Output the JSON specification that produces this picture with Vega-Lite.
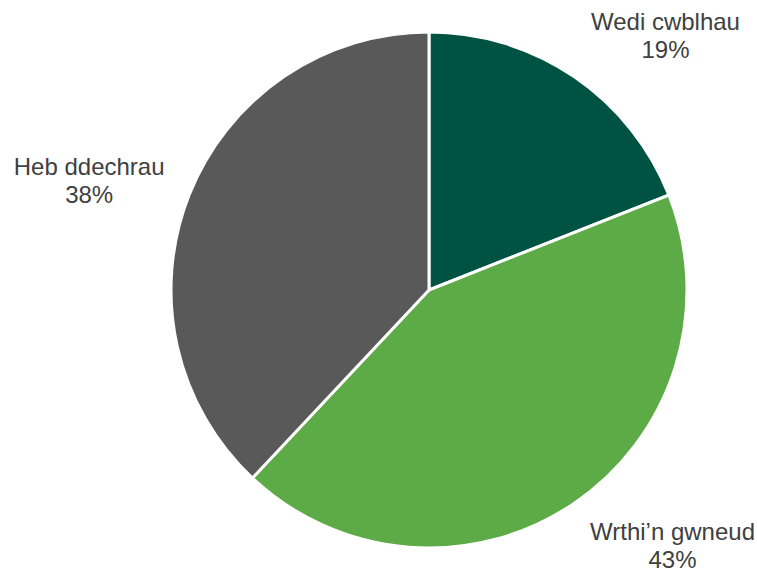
{
  "$schema": "https://vega.github.io/schema/vega-lite/v6.json",
  "width": 516,
  "height": 516,
  "autosize": {"type": "none"},
  "padding": {"left": 171, "top": 32, "right": 70, "bottom": 20},
  "background": "white",
  "view": {"stroke": null},
  "data": {
    "values": [
      {"category": "Wedi cwblhau", "value": 19, "order": 1},
      {"category": "Wrthi’n gwneud", "value": 43, "order": 2},
      {"category": "Heb ddechrau", "value": 38, "order": 3}
    ]
  },
  "transform": [
    {"calculate": "[datum.category, datum.value + '%']", "as": "label"}
  ],
  "encoding": {
    "theta": {"field": "value", "type": "quantitative", "stack": true},
    "order": {"field": "order", "type": "quantitative"}
  },
  "layer": [
    {
      "mark": {"type": "arc", "stroke": "white", "strokeWidth": 3},
      "encoding": {
        "color": {
          "field": "category",
          "type": "nominal",
          "scale": {
            "domain": ["Wedi cwblhau", "Wrthi’n gwneud", "Heb ddechrau"],
            "range": ["#005343", "#5DAB46", "#595959"]
          },
          "legend": null
        }
      }
    },
    {
      "mark": {"type": "text", "radius": 330, "dx": 51, "dy": 6, "font": "Liberation Sans", "fontSize": 24, "lineHeight": 28, "color": "#404040", "align": "center", "baseline": "middle"},
      "encoding": {"text": {"condition": {"test": "datum.order == 1", "field": "label"}, "value": ""}}
    },
    {
      "mark": {"type": "text", "radius": 330, "dx": 58, "dy": -30, "font": "Liberation Sans", "fontSize": 24, "lineHeight": 28, "color": "#404040", "align": "center", "baseline": "middle"},
      "encoding": {"text": {"condition": {"test": "datum.order == 2", "field": "label"}, "value": ""}}
    },
    {
      "mark": {"type": "text", "radius": 330, "dx": -33, "dy": -1, "font": "Liberation Sans", "fontSize": 24, "lineHeight": 28, "color": "#404040", "align": "center", "baseline": "middle"},
      "encoding": {"text": {"condition": {"test": "datum.order == 3", "field": "label"}, "value": ""}}
    }
  ]
}
